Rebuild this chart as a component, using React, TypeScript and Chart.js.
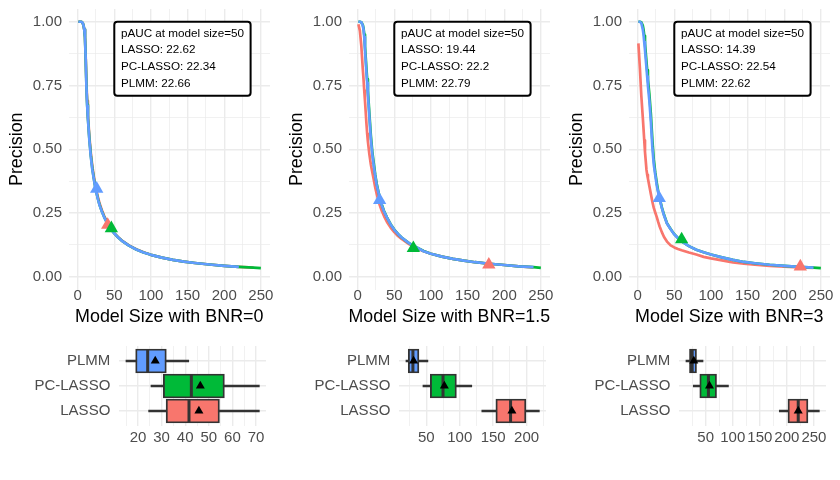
import React, { useEffect, useRef } from 'react';
import { Chart, registerables } from 'chart.js';

Chart.register(...registerables);

const FONT = '"Liberation Sans", Arimo, Arial, Helvetica, sans-serif';
Chart.defaults.font.family = FONT;

// ---------- colours ----------
const RED = '#F8766D';
const GREEN = '#00BA38';
const BLUE = '#619CFF';
const TICK_COLOR = '#4D4D4D';
const GRID_COLOR = '#EBEBEB';
const BOX_LINE = '#333333';

// ---------- data ----------
const BNR_LABELS = ['0', '1.5', '3'];
const METHODS = ['LASSO', 'PC-LASSO', 'PLMM'];
const BOX_ROWS = ['PLMM', 'PC-LASSO', 'LASSO'];

// model sizes at which the precision curves were read
const SIZES = [1, 3, 5, 7, 8, 9, 10, 11, 12, 13, 14, 16, 18, 20, 22, 24, 26, 28, 30, 33, 36, 40, 45, 50, 55, 60, 70, 80, 90, 100, 115, 130, 145, 160, 180, 200, 220, 240, 250];

// BNR = 0
const P1_LASSO = [1.0, 1.0, 1.0, 0.995, 0.985, 0.97, 0.945, 0.86, 0.76, 0.69, 0.635, 0.55, 0.485, 0.435, 0.395, 0.36, 0.333, 0.308, 0.287, 0.262, 0.24, 0.215, 0.19, 0.171, 0.156, 0.143, 0.123, 0.108, 0.096, 0.086, 0.075, 0.066, 0.059, 0.054, 0.048, 0.043, 0.039, 0.036, null];
const P1_PC = [1.0, 1.0, 1.0, 0.995, 0.985, 0.97, 0.938, 0.852, 0.745, 0.675, 0.622, 0.54, 0.475, 0.425, 0.387, 0.352, 0.326, 0.302, 0.281, 0.257, 0.236, 0.212, 0.189, 0.17, 0.155, 0.142, 0.122, 0.107, 0.095, 0.086, 0.075, 0.066, 0.059, 0.054, 0.048, 0.043, 0.039, 0.036, 0.034];
const P1_PLMM = [1.0, 1.0, 1.0, 0.995, 0.985, 0.97, 0.94, 0.85, 0.74, 0.67, 0.62, 0.535, 0.47, 0.42, 0.385, 0.35, 0.325, 0.3, 0.28, 0.256, 0.235, 0.211, 0.188, 0.17, 0.155, 0.142, 0.122, 0.107, 0.095, 0.086, 0.075, 0.066, 0.059, 0.054, 0.048, 0.043, 0.039, null, null];

// BNR = 1.5
const P2_LASSO = [0.99, 0.965, 0.905, 0.815, 0.775, 0.73, 0.69, 0.645, 0.6, 0.56, 0.53, 0.48, 0.44, 0.41, 0.38, 0.35, 0.325, 0.302, 0.282, 0.258, 0.238, 0.215, 0.193, 0.175, 0.16, 0.148, 0.128, 0.113, 0.1, 0.09, 0.079, 0.07, 0.063, 0.057, 0.051, 0.046, 0.041, 0.037, null];
const P2_PC = [1.0, 1.0, 0.998, 0.988, 0.975, 0.95, 0.905, 0.86, 0.815, 0.775, 0.73, 0.64, 0.555, 0.49, 0.445, 0.4, 0.365, 0.338, 0.313, 0.283, 0.258, 0.233, 0.206, 0.185, 0.168, 0.154, 0.132, 0.116, 0.101, 0.09, 0.079, 0.07, 0.063, 0.057, 0.051, 0.046, 0.041, 0.038, 0.035];
const P2_PLMM = [1.0, 1.0, 0.998, 0.985, 0.97, 0.94, 0.89, 0.845, 0.8, 0.76, 0.715, 0.625, 0.54, 0.48, 0.435, 0.395, 0.36, 0.335, 0.31, 0.28, 0.256, 0.232, 0.205, 0.184, 0.168, 0.154, 0.132, 0.116, 0.1, 0.09, 0.079, 0.07, 0.063, 0.057, 0.051, 0.046, 0.041, 0.038, null];

// BNR = 3
const P3_LASSO = [0.915, 0.82, 0.71, 0.625, 0.58, 0.535, 0.49, 0.455, 0.42, 0.4, 0.385, 0.355, 0.325, 0.295, 0.27, 0.252, 0.235, 0.215, 0.197, 0.175, 0.156, 0.138, 0.123, 0.115, 0.109, 0.104, 0.095, 0.087, 0.078, 0.072, 0.064, 0.056, 0.051, 0.047, 0.043, 0.04, 0.037, 0.035, null];
const P3_PC = [1.0, 1.0, 0.998, 0.985, 0.97, 0.945, 0.915, 0.88, 0.845, 0.81, 0.775, 0.715, 0.64, 0.54, 0.46, 0.41, 0.37, 0.335, 0.308, 0.272, 0.243, 0.21, 0.187, 0.167, 0.152, 0.139, 0.12, 0.106, 0.096, 0.087, 0.076, 0.066, 0.058, 0.053, 0.047, 0.043, 0.039, 0.036, 0.034];
const P3_PLMM = [1.0, 1.0, 0.995, 0.97, 0.95, 0.92, 0.89, 0.855, 0.82, 0.785, 0.75, 0.69, 0.61, 0.51, 0.44, 0.4, 0.36, 0.33, 0.305, 0.27, 0.24, 0.209, 0.186, 0.166, 0.152, 0.139, 0.12, 0.106, 0.096, 0.087, 0.076, 0.066, 0.058, 0.053, 0.047, 0.043, 0.039, 0.036, null];

const CURVES_LASSO = [P1_LASSO, P2_LASSO, P3_LASSO];
const CURVES_PC = [P1_PC, P2_PC, P3_PC];
const CURVES_PLMM = [P1_PLMM, P2_PLMM, P3_PLMM];

// selected-model markers (triangles) per panel
const TRI_SIZE_LASSO = [41, 179, 222];
const TRI_PREC_LASSO = [0.203, 0.047, 0.04];
const TRI_SIZE_PC = [46, 76, 60];
const TRI_PREC_PC = [0.19, 0.112, 0.146];
const TRI_SIZE_PLMM = [26, 30, 29.5];
const TRI_PREC_PLMM = [0.345, 0.3, 0.308];

// pAUC annotation
const PAUC_LASSO = [22.62, 19.44, 14.39];
const PAUC_PC = [22.34, 22.2, 22.54];
const PAUC_PLMM = [22.66, 22.79, 22.62];

// box plots of selected model size, rows: PLMM, PC-LASSO, LASSO
const BOX_LO = [[14.9, 25.5, 24.5], [19.6, 45, 133], [13.5, 27, 186]];
const BOX_Q1 = [[19, 30.7, 31.9], [23, 56, 154], [20, 39, 202]];
const BOX_MED = [[24.1, 42.6, 41.6], [30, 75, 176], [25, 55, 221]];
const BOX_Q3 = [[32, 56.6, 54.5], [39, 95, 199], [33, 70, 239]];
const BOX_HI = [[41.5, 71.4, 71.4], [52.4, 118, 219], [45, 92, 260]];
const BOX_MEAN = [[27.3, 46.4, 45.8], [31, 77, 178], [28, 57, 221]];
const BOX_STEP = [10, 50, 50];

// ---------- sizes ----------
const TICK_SIZE = 15;
const TITLE_SIZE = 17.9;
const LABEL_SIZE = 11.7;

const tickFont = { family: FONT, size: TICK_SIZE, lineHeight: 1 };
const titleFont = { family: FONT, size: TITLE_SIZE, lineHeight: 1 };

function zeroPad(s: any) {
  s.paddingLeft = 0;
  s.paddingRight = 0;
  s.paddingTop = 0;
  s.paddingBottom = 0;
}

function gridValues(min: number, max: number, step: number) {
  const out: number[] = [];
  const start = Math.ceil(min / step - 1e-9) * step;
  for (let v = start; v <= max + 1e-9; v += step) out.push(Math.round(v * 1000) / 1000);
  return out;
}

const isMultiple = (v: number, step: number) => Math.abs(v / step - Math.round(v / step)) < 1e-6;

// ---------- annotation plugin ----------
const pAucPlugin = {
  id: 'pAucBox',
  afterDatasetsDraw(chart: any, _args: any, opts: any) {
    if (!opts || !opts.lines) return;
    const { ctx } = chart;
    const left = chart.scales.x.getPixelForValue(opts.x);
    const top = chart.scales.y.getPixelForValue(opts.y);
    ctx.save();
    ctx.font = `${LABEL_SIZE}px ${FONT}`;
    const pad = 6.6;
    const gap = 16.9;
    const first = 11.6;
    const w = Math.max(...opts.lines.map((l: string) => ctx.measureText(l).width)) + pad * 2;
    const h = first * 2 + gap * (opts.lines.length - 1);
    const r = 3;
    ctx.beginPath();
    ctx.moveTo(left + r, top);
    ctx.lineTo(left + w - r, top);
    ctx.arcTo(left + w, top, left + w, top + r, r);
    ctx.lineTo(left + w, top + h - r);
    ctx.arcTo(left + w, top + h, left + w - r, top + h, r);
    ctx.lineTo(left + r, top + h);
    ctx.arcTo(left, top + h, left, top + h - r, r);
    ctx.lineTo(left, top + r);
    ctx.arcTo(left, top, left + r, top, r);
    ctx.closePath();
    ctx.fillStyle = '#ffffff';
    ctx.fill();
    ctx.lineWidth = 2;
    ctx.strokeStyle = '#000000';
    ctx.stroke();
    ctx.fillStyle = '#000000';
    ctx.textAlign = 'left';
    ctx.textBaseline = 'middle';
    opts.lines.forEach((l: string, i: number) => ctx.fillText(l, left + pad, top + first + i * gap));
    ctx.restore();
  },
};

// ---------- top panel ----------
function topConfig(p: number): any {
  const line = (vals: (number | null)[], color: string, order: number) => ({
    type: 'scatter',
    showLine: true,
    data: SIZES.flatMap((s, i) => (vals[i] == null ? [] : [{ x: s, y: vals[i] }])),
    borderColor: color,
    backgroundColor: color,
    borderWidth: 2.7,
    pointRadius: 0,
    pointHoverRadius: 0,
    tension: 0,
    borderJoinStyle: 'round',
    order,
  });
  const tri = (x: number, y: number, color: string, order: number) => ({
    type: 'scatter',
    data: [{ x, y }],
    pointStyle: 'triangle',
    pointRadius: 7.7,
    pointHoverRadius: 7.7,
    pointBackgroundColor: color,
    pointBorderColor: color,
    pointBorderWidth: 0,
    order,
  });
  const xGrid = gridValues(0, 250, 25);
  const yGrid = gridValues(0, 1, 0.125);
  return {
    type: 'scatter',
    data: {
      datasets: [
        line(CURVES_LASSO[p], RED, 6),
        line(CURVES_PC[p], GREEN, 5),
        line(CURVES_PLMM[p], BLUE, 4),
        tri(TRI_SIZE_LASSO[p], TRI_PREC_LASSO[p], RED, 3),
        tri(TRI_SIZE_PC[p], TRI_PREC_PC[p], GREEN, 2),
        tri(TRI_SIZE_PLMM[p], TRI_PREC_PLMM[p], BLUE, 1),
      ],
    },
    options: {
      animation: false,
      responsive: false,
      maintainAspectRatio: false,
      events: [],
      layout: { padding: { left: 0, right: 10, top: 9, bottom: 0 } },
      plugins: {
        legend: { display: false },
        tooltip: { enabled: false },
        pAucBox: {
          x: 50,
          y: 1,
          lines: [
            'pAUC at model size=50',
            `${METHODS[0]}: ${PAUC_LASSO[p]}`,
            `${METHODS[1]}: ${PAUC_PC[p]}`,
            `${METHODS[2]}: ${PAUC_PLMM[p]}`,
          ],
        },
      },
      scales: {
        x: {
          type: 'linear',
          min: -12.5,
          max: 262.5,
          bounds: 'data',
          offset: false,
          afterBuildTicks: (s: any) => {
            s.ticks = xGrid.map((v) => ({ value: v }));
          },
          afterFit: (s: any) => {
            s.height = 40.5;
            zeroPad(s);
          },
          grid: {
            offset: false,
            drawTicks: false,
            color: GRID_COLOR,
            lineWidth: (c: any) => (c.tick && isMultiple(c.tick.value, 50) ? 1.4 : 0.7),
          },
          border: { display: false },
          ticks: {
            autoSkip: false,
            maxRotation: 0,
            minRotation: 0,
            padding: -1.3,
            color: TICK_COLOR,
            font: tickFont,
            callback: (v: any) => (isMultiple(Number(v), 50) ? String(v) : ''),
          },
          title: {
            display: true,
            text: `Model Size with BNR=${BNR_LABELS[p]}`,
            color: '#000000',
            font: titleFont,
            padding: { top: 0, bottom: 4.2 },
          },
        },
        y: {
          type: 'linear',
          min: -0.05,
          max: 1.05,
          bounds: 'data',
          afterBuildTicks: (s: any) => {
            s.ticks = yGrid.map((v) => ({ value: v }));
          },
          afterFit: (s: any) => {
            s.width = 68.5;
            zeroPad(s);
          },
          grid: {
            offset: false,
            drawTicks: false,
            color: GRID_COLOR,
            lineWidth: (c: any) => (c.tick && isMultiple(c.tick.value, 0.25) ? 1.4 : 0.7),
          },
          border: { display: false },
          ticks: {
            autoSkip: false,
            padding: 6.5,
            color: TICK_COLOR,
            font: tickFont,
            callback: (v: any) => (isMultiple(Number(v), 0.25) ? Number(v).toFixed(2) : ''),
          },
          title: {
            display: true,
            text: 'Precision',
            color: '#000000',
            font: titleFont,
            padding: { top: 7.8, bottom: 0 },
          },
        },
      },
    },
    plugins: [pAucPlugin],
  };
}

// ---------- box panel ----------
function boxConfig(p: number): any {
  const lo = BOX_LO[p];
  const q1 = BOX_Q1[p];
  const med = BOX_MED[p];
  const q3 = BOX_Q3[p];
  const hi = BOX_HI[p];
  const mean = BOX_MEAN[p];
  const step = BOX_STEP[p];
  const dMin = Math.min(...lo);
  const dMax = Math.max(...hi);
  const ext = (dMax - dMin) * 0.05;
  const xMin = dMin - ext;
  const xMax = dMax + ext;
  const xGrid = gridValues(xMin, xMax, step / 2);
  const rowsY = BOX_ROWS.map((_, i) => i + 1);
  const fills = BOX_ROWS.map((r) => (r === 'PLMM' ? BLUE : r === 'PC-LASSO' ? GREEN : RED));
  return {
    type: 'bar',
    data: {
      datasets: [
        {
          type: 'bar',
          indexAxis: 'y',
          grouped: false,
          data: rowsY.map((y, i) => ({ x: [lo[i], hi[i]], y })),
          backgroundColor: BOX_LINE,
          borderWidth: 0,
          barThickness: 1.9,
          order: 4,
        },
        {
          type: 'bar',
          indexAxis: 'y',
          grouped: false,
          data: rowsY.map((y, i) => ({ x: [q1[i], q3[i]], y })),
          backgroundColor: fills,
          borderColor: BOX_LINE,
          borderWidth: 1.9,
          borderSkipped: false,
          barThickness: 24,
          order: 3,
        },
        {
          type: 'scatter',
          data: rowsY.map((y, i) => ({ x: med[i], y })),
          pointStyle: 'line',
          pointRotation: 90,
          pointRadius: 11,
          pointHoverRadius: 11,
          pointBorderColor: BOX_LINE,
          pointBackgroundColor: BOX_LINE,
          pointBorderWidth: 3,
          order: 2,
        },
        {
          type: 'scatter',
          data: rowsY.map((y, i) => ({ x: mean[i], y })),
          pointStyle: 'triangle',
          pointRadius: 5.2,
          pointHoverRadius: 5.2,
          pointBorderColor: '#000000',
          pointBackgroundColor: '#000000',
          pointBorderWidth: 0,
          order: 1,
        },
      ],
    },
    options: {
      animation: false,
      responsive: false,
      maintainAspectRatio: false,
      events: [],
      layout: { padding: { left: 0, right: 10, top: 16, bottom: 0 } },
      plugins: { legend: { display: false }, tooltip: { enabled: false } },
      scales: {
        x: {
          type: 'linear',
          min: xMin,
          max: xMax,
          bounds: 'data',
          offset: false,
          beginAtZero: false,
          afterBuildTicks: (s: any) => {
            s.ticks = xGrid.map((v) => ({ value: v }));
          },
          afterFit: (s: any) => {
            s.height = 54;
            zeroPad(s);
          },
          grid: {
            offset: false,
            drawTicks: false,
            color: GRID_COLOR,
            lineWidth: (c: any) => (c.tick && isMultiple(c.tick.value, step) ? 1.4 : 0.7),
          },
          border: { display: false },
          ticks: {
            autoSkip: false,
            maxRotation: 0,
            minRotation: 0,
            padding: 4.8,
            color: TICK_COLOR,
            font: tickFont,
            callback: (v: any) => (isMultiple(Number(v), step) ? String(v) : ''),
          },
        },
        y: {
          type: 'linear',
          min: 0.4,
          max: 3.6,
          reverse: true,
          bounds: 'data',
          offset: false,
          beginAtZero: false,
          afterBuildTicks: (s: any) => {
            s.ticks = rowsY.map((v) => ({ value: v }));
          },
          afterFit: (s: any) => {
            s.width = 119.3;
            zeroPad(s);
          },
          grid: { offset: false, drawTicks: false, color: GRID_COLOR, lineWidth: 1.4 },
          border: { display: false },
          ticks: {
            autoSkip: false,
            padding: 9,
            color: TICK_COLOR,
            font: tickFont,
            callback: (v: any) => BOX_ROWS[Math.round(Number(v)) - 1] ?? '',
          },
        },
      },
    },
  };
}

// ---------- components ----------
function ChartCanvas(props: { left: number; top: number; width: number; height: number; make: () => any }) {
  const ref = useRef<HTMLCanvasElement | null>(null);
  useEffect(() => {
    if (!ref.current) return;
    const chart = new Chart(ref.current, props.make());
    return () => chart.destroy();
  }, []);
  return (
    <canvas
      ref={ref}
      width={props.width}
      height={props.height}
      style={{ position: 'absolute', left: props.left, top: props.top, width: props.width, height: props.height }}
    />
  );
}

export default function App() {
  return (
    <div style={{ position: 'absolute', left: 0, top: 0, width: 840, height: 480, background: '#ffffff' }}>
      {[0, 1, 2].map((p) => (
        <React.Fragment key={p}>
          <ChartCanvas left={280 * p} top={0} width={280} height={330} make={() => topConfig(p)} />
          <ChartCanvas left={280 * p} top={330} width={280} height={150} make={() => boxConfig(p)} />
        </React.Fragment>
      ))}
    </div>
  );
}
